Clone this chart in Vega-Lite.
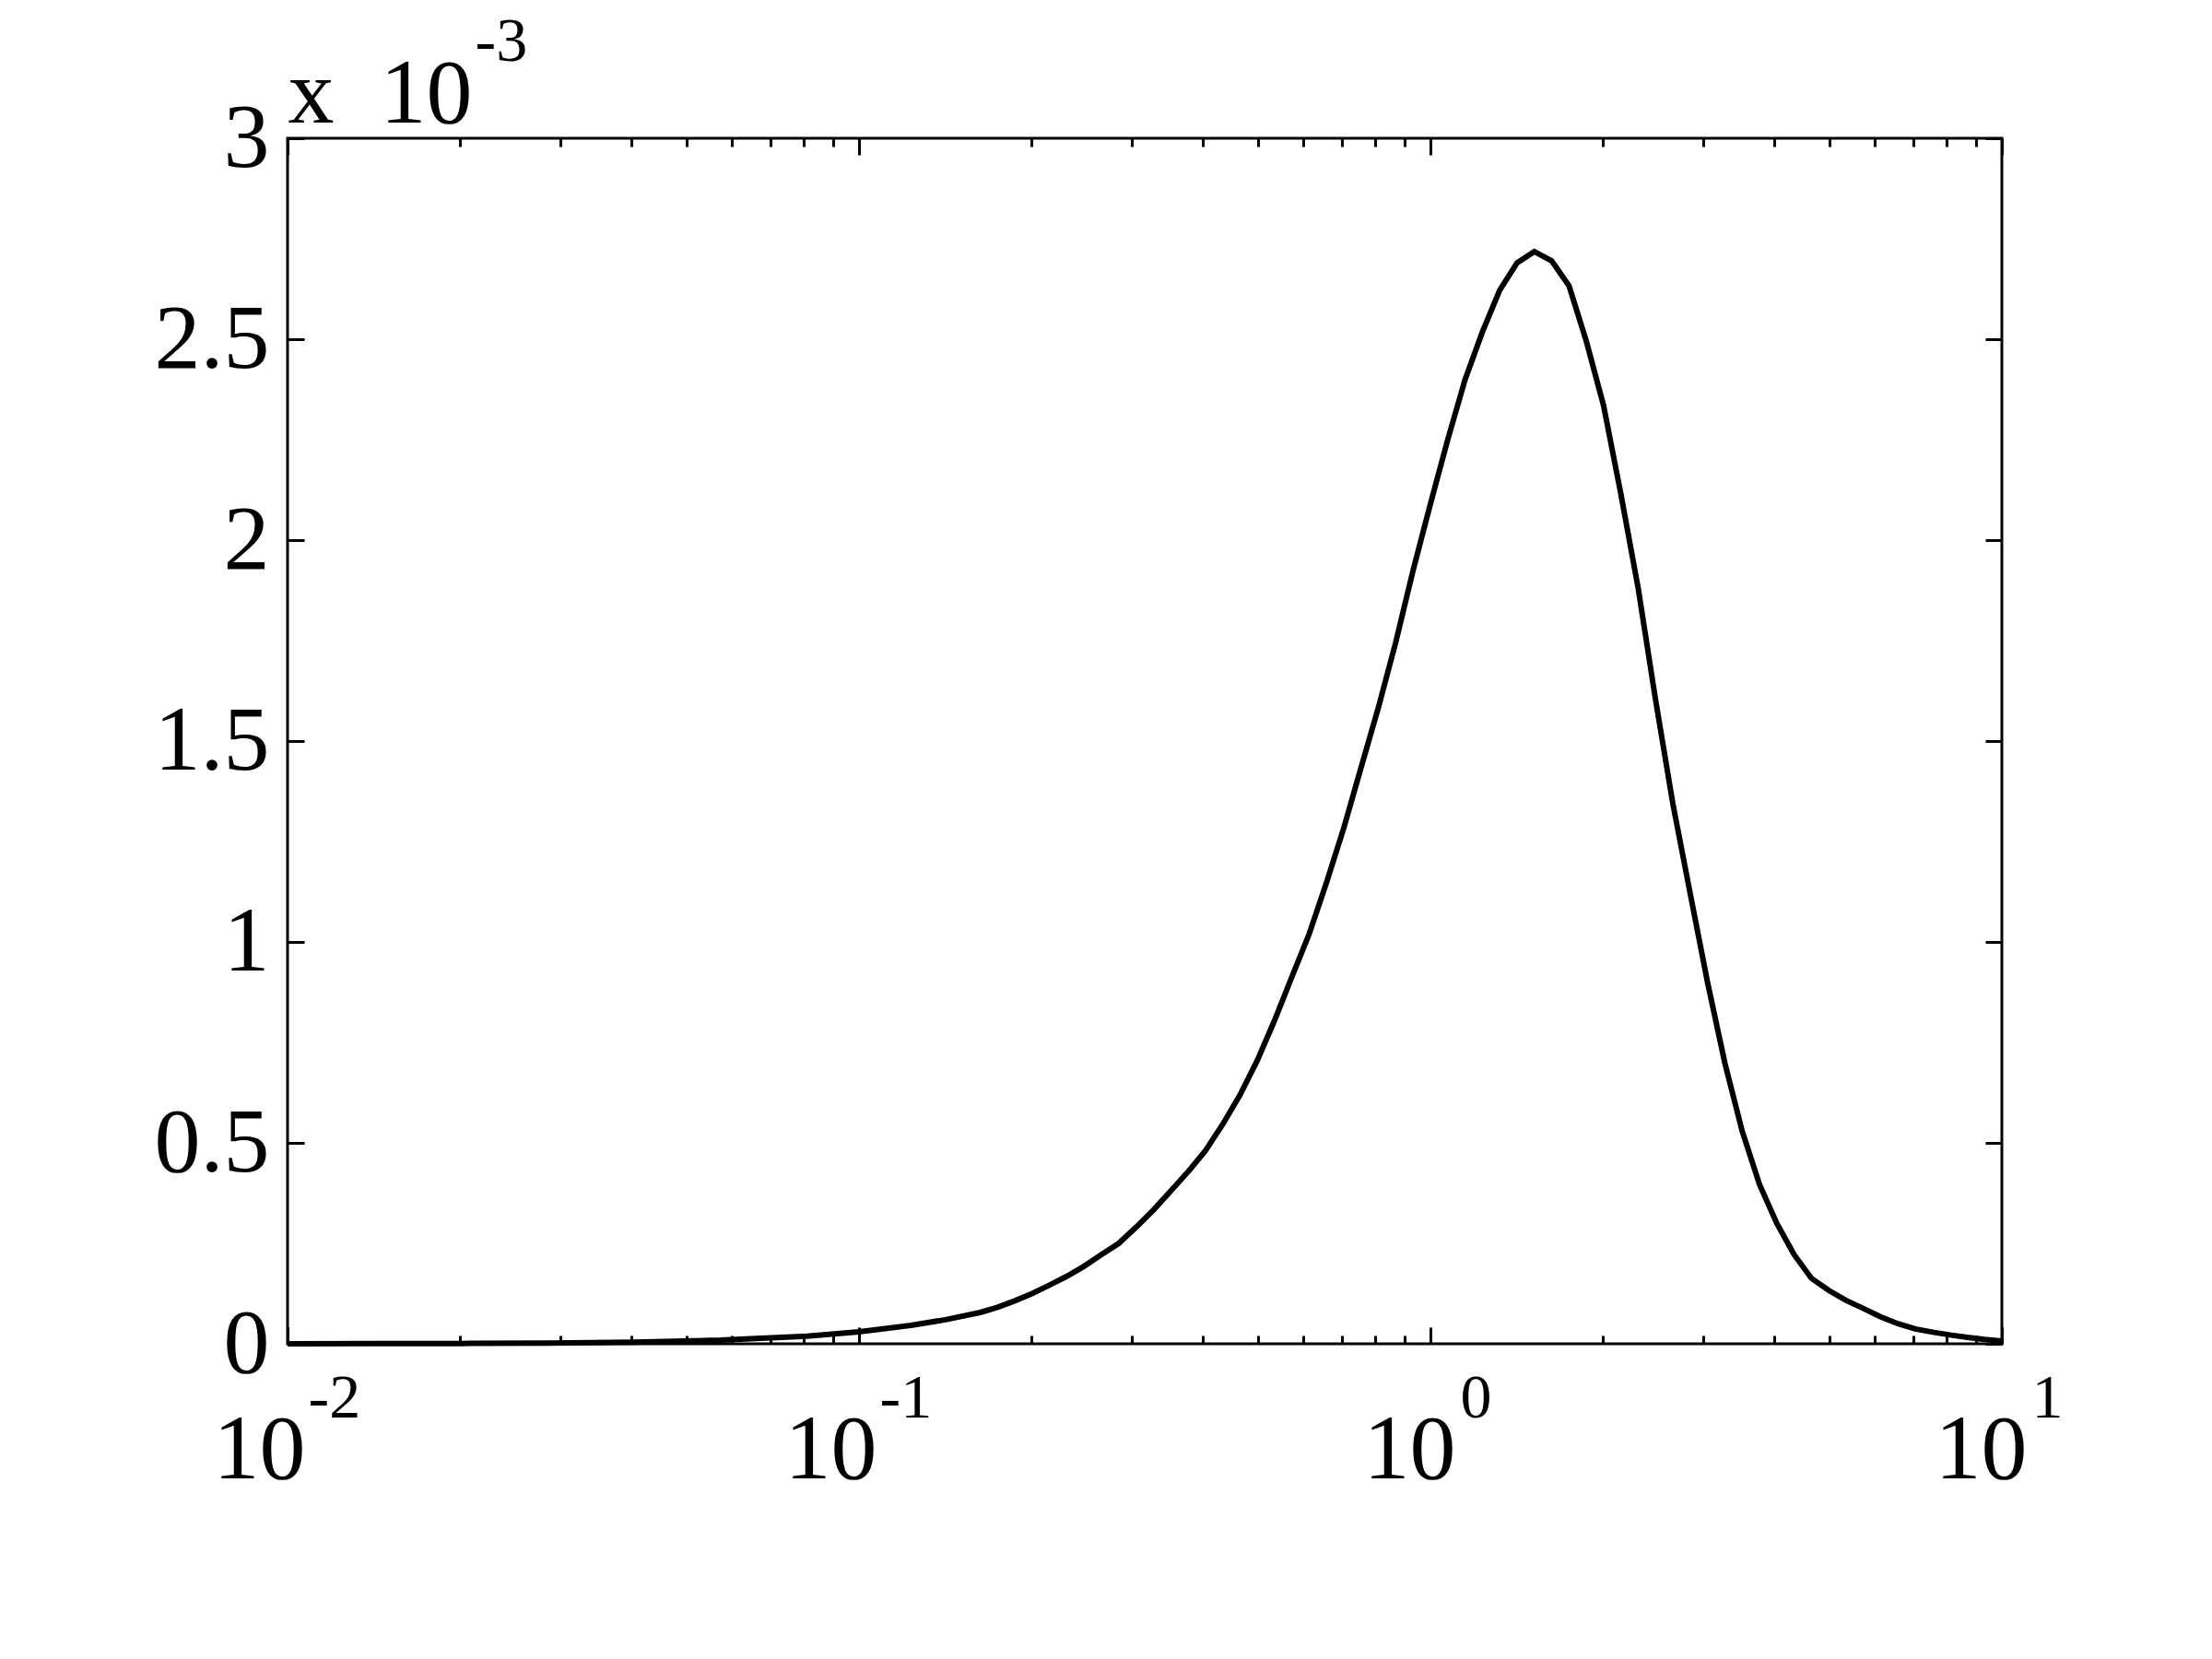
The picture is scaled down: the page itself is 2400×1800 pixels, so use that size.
{
  "$schema": "https://vega.github.io/schema/vega-lite/v6.json",
  "width": 1860,
  "height": 1308,
  "autosize": {"type": "none"},
  "padding": {"left": 312, "top": 150, "right": 228, "bottom": 342},
  "background": "white",
  "config": {
    "view": {"stroke": "black", "strokeWidth": 3},
    "axis": {
      "grid": false,
      "domain": false,
      "tickColor": "black",
      "tickWidth": 3,
      "labelColor": "black",
      "labelFont": "Liberation Serif",
      "titleFont": "Liberation Serif",
      "titleColor": "black",
      "titleFontWeight": "normal",
      "labelFlush": false,
      "labelOverlap": false,
      "labelBound": false
    }
  },
  "data": {
    "values": [
      {"x": 0.01, "y": 0.0},
      {"x": 0.01417, "y": 0.0000003},
      {"x": 0.02009, "y": 0.0000008},
      {"x": 0.02848, "y": 0.000002},
      {"x": 0.04037, "y": 0.000004},
      {"x": 0.05722, "y": 0.000009},
      {"x": 0.08111, "y": 0.000019},
      {"x": 0.1, "y": 0.00003},
      {"x": 0.1233, "y": 0.000046},
      {"x": 0.1417, "y": 0.00006},
      {"x": 0.163, "y": 0.000078},
      {"x": 0.1748, "y": 0.000091},
      {"x": 0.1874, "y": 0.000107},
      {"x": 0.2009, "y": 0.000125},
      {"x": 0.2154, "y": 0.000146},
      {"x": 0.231, "y": 0.000168},
      {"x": 0.2477, "y": 0.000193},
      {"x": 0.2656, "y": 0.000222},
      {"x": 0.2848, "y": 0.00025},
      {"x": 0.3054, "y": 0.00029},
      {"x": 0.3275, "y": 0.000333},
      {"x": 0.3511, "y": 0.00038},
      {"x": 0.3765, "y": 0.000428},
      {"x": 0.4037, "y": 0.00048},
      {"x": 0.4329, "y": 0.000546},
      {"x": 0.4642, "y": 0.000619},
      {"x": 0.4977, "y": 0.000705},
      {"x": 0.5337, "y": 0.000805},
      {"x": 0.5722, "y": 0.000913},
      {"x": 0.6136, "y": 0.00102},
      {"x": 0.6579, "y": 0.001148},
      {"x": 0.7055, "y": 0.001284},
      {"x": 0.7565, "y": 0.001435},
      {"x": 0.8111, "y": 0.001584},
      {"x": 0.8697, "y": 0.001746},
      {"x": 0.9326, "y": 0.001925},
      {"x": 1.0, "y": 0.00209},
      {"x": 1.0723, "y": 0.00225},
      {"x": 1.15, "y": 0.0024},
      {"x": 1.233, "y": 0.002518},
      {"x": 1.322, "y": 0.002622},
      {"x": 1.418, "y": 0.00269},
      {"x": 1.52, "y": 0.002718},
      {"x": 1.63, "y": 0.002695},
      {"x": 1.748, "y": 0.002633},
      {"x": 1.874, "y": 0.002495},
      {"x": 2.009, "y": 0.002335},
      {"x": 2.154, "y": 0.002115},
      {"x": 2.31, "y": 0.00188},
      {"x": 2.477, "y": 0.001603},
      {"x": 2.656, "y": 0.001344},
      {"x": 2.848, "y": 0.001121},
      {"x": 3.054, "y": 0.0009},
      {"x": 3.275, "y": 0.000699},
      {"x": 3.511, "y": 0.00053},
      {"x": 3.765, "y": 0.000397},
      {"x": 4.037, "y": 0.0003},
      {"x": 4.329, "y": 0.000222},
      {"x": 4.642, "y": 0.000163},
      {"x": 4.977, "y": 0.000133},
      {"x": 5.337, "y": 0.000108},
      {"x": 5.722, "y": 0.000088},
      {"x": 6.136, "y": 0.000067},
      {"x": 6.579, "y": 0.00005},
      {"x": 7.055, "y": 0.000037},
      {"x": 7.565, "y": 0.000029},
      {"x": 8.111, "y": 0.000022},
      {"x": 8.697, "y": 0.000016},
      {"x": 9.326, "y": 0.000011},
      {"x": 10.0, "y": 0.000007}
    ]
  },
  "layer": [
    {
      "mark": {"type": "line", "color": "black", "strokeWidth": 6},
      "encoding": {
        "x": {
          "field": "x", "type": "quantitative",
          "scale": {"type": "log", "domain": [0.01, 10], "nice": false},
          "axis": {
            "orient": "bottom", "values": [0.01, 0.1, 1, 10], "tickSize": -18,
            "labelExpr": "'10'", "labelFontSize": 100, "labelAlign": "right",
            "labelBaseline": "alphabetic", "labelPadding": 163,
            "labelOffset": {"condition": {"test": "datum.value < 0.5", "value": 19}, "value": 27},
            "title": null
          }
        },
        "y": {
          "field": "y", "type": "quantitative",
          "scale": {"domain": [0, 0.003], "nice": false, "zero": false},
          "axis": {
            "orient": "left", "values": [0, 0.0005, 0.001, 0.0015, 0.002, 0.0025, 0.003],
            "tickSize": -18, "labelExpr": "format(datum.value * 1000, '.1~f')",
            "labelFontSize": 100, "labelPadding": 38, "labelBaseline": "middle",
            "title": "x\u200210", "titleAngle": 0, "titleAlign": "left",
            "titleBaseline": "alphabetic", "titleX": 0, "titleY": -18, "titleFontSize": 100
          }
        }
      }
    },
    {
      "mark": {"type": "line", "opacity": 0},
      "encoding": {
        "x": {
          "field": "x", "type": "quantitative",
          "axis": {
            "orient": "bottom", "values": [0.01, 0.1, 1, 10], "ticks": false,
            "labelExpr": "datum.value < 0.05 ? '-2' : datum.value < 0.5 ? '-1' : datum.value < 5 ? '0' : '1'",
            "labelFontSize": 68, "labelAlign": "left", "labelBaseline": "alphabetic",
            "labelPadding": 79,
            "labelOffset": {"condition": {"test": "datum.value < 0.5", "value": 22}, "value": 32},
            "title": null
          }
        },
        "y": {
          "field": "y", "type": "quantitative",
          "axis": {
            "orient": "right", "values": [0, 0.0005, 0.001, 0.0015, 0.002, 0.0025, 0.003],
            "tickSize": -18, "labels": false, "title": null
          }
        }
      }
    },
    {
      "mark": {"type": "line", "opacity": 0},
      "encoding": {
        "x": {
          "field": "x", "type": "quantitative",
          "axis": {"orient": "top", "values": [0.01, 0.1, 1, 10], "tickSize": -18, "labels": false, "title": null}
        },
        "y": {
          "field": "y", "type": "quantitative",
          "axis": {
            "orient": "left", "ticks": false, "labels": false,
            "title": "-3", "titleAngle": 0, "titleAlign": "left", "titleBaseline": "alphabetic",
            "titleX": 203, "titleY": -85, "titleFontSize": 68
          }
        }
      }
    },
    {
      "mark": {"type": "line", "opacity": 0},
      "encoding": {
        "x": {
          "field": "x", "type": "quantitative",
          "axis": {
            "orient": "bottom",
            "values": [0.02, 0.03, 0.04, 0.05, 0.06, 0.07, 0.08, 0.09, 0.2, 0.3, 0.4, 0.5, 0.6, 0.7, 0.8, 0.9, 2, 3, 4, 5, 6, 7, 8, 9],
            "tickSize": -9, "labels": false, "title": null
          }
        },
        "y": {"field": "y", "type": "quantitative", "axis": null}
      }
    },
    {
      "mark": {"type": "line", "opacity": 0},
      "encoding": {
        "x": {
          "field": "x", "type": "quantitative",
          "axis": {
            "orient": "top",
            "values": [0.02, 0.03, 0.04, 0.05, 0.06, 0.07, 0.08, 0.09, 0.2, 0.3, 0.4, 0.5, 0.6, 0.7, 0.8, 0.9, 2, 3, 4, 5, 6, 7, 8, 9],
            "tickSize": -9, "labels": false, "title": null
          }
        },
        "y": {"field": "y", "type": "quantitative", "axis": null}
      }
    }
  ],
  "resolve": {"axis": {"x": "independent", "y": "independent"}}
}
